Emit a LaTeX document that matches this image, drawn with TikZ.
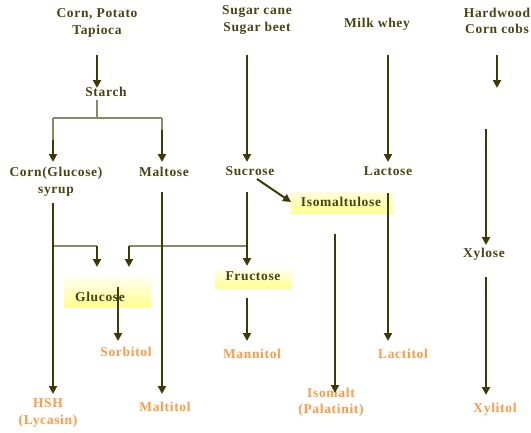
\documentclass[tikz,border=0pt]{standalone}
\usepackage{fontspec}
\setmainfont{Liberation Serif}[LetterSpace=5]
\usetikzlibrary{arrows.meta}
\definecolor{txt}{HTML}{474412}
\definecolor{arrc}{HTML}{3F3A05}
\definecolor{thinc}{HTML}{8A8A62}
\definecolor{org}{HTML}{FF9A45}
\definecolor{hly}{HTML}{FFFF90}
\newcommand{\lblfont}{\bfseries\fontsize{13.5}{16.5}\selectfont}
\tikzset{
 lbl/.style={font=\lblfont, text=txt, align=center, inner sep=0pt},
 prod/.style={font=\lblfont, text=org, align=center, inner sep=0pt},
 arr/.style={draw=arrc, line width=2pt, -{Triangle[width=8pt,length=8pt]}},
 thinln/.style={draw=thinc, line width=1.4pt},
 hl/.style={top color=white, bottom color=hly, draw=none}
}
\begin{document}
\begin{tikzpicture}[x=1pt,y=-1pt]
\useasboundingbox (0,0) rectangle (531,432);
% highlight boxes
\shade[hl] (64,272) rectangle (151,307);
\shade[hl] (215,266) rectangle (292,288);
\shade[hl,top color=hly!30] (291,192) rectangle (393,213);
% text nodes
\node[lbl] (corn) at (97,23) {Corn, Potato\\Tapioca};
\node[lbl] (starch) at (106,92) {Starch};
\node[lbl] (syrup) at (56,182) {Corn(Glucose)\\syrup};
\node[lbl] (maltose) at (164,172) {Maltose};
\node[lbl] (sugar) at (257,20) {Sugar cane\\Sugar beet};
\node[lbl] (whey) at (377,24) {Milk whey};
\node[lbl] (hardwood) at (497,21) {Hardwood\\Corn cobs};
\node[lbl] (sucrose) at (250,171) {Sucrose};
\node[lbl] (lactose) at (388,171) {Lactose};
\node[lbl] (isomaltulose) at (341,202) {Isomaltulose};
\node[lbl] (glucose) at (100,297) {Glucose};
\node[lbl] (fructose) at (253,276) {Fructose};
\node[lbl] (xylose) at (484,254) {Xylose};
\node[prod] (hsh) at (48,413) {HSH\\(Lycasin)};
\node[prod] (maltitol) at (165,407) {Maltitol};
\node[prod] (sorbitol) at (126,352) {Sorbitol};
\node[prod] (mannitol) at (252,354) {Mannitol};
\node[prod] (isomalt) at (331,402) {Isomalt\\(Palatinit)};
\node[prod] (lactitol) at (403,354) {Lactitol};
\node[prod] (xylitol) at (495,409) {Xylitol};
% coordinates
\coordinate (cornS) at (97,55);   \coordinate (starchN) at (97,88);
\coordinate (starchS) at (97,100); \coordinate (split) at (97,118);
\coordinate (splL) at (53,118);   \coordinate (splR) at (162,118);
\coordinate (splL2) at (53,140);  \coordinate (splR2) at (162,130);
\coordinate (syrupN) at (53,162); \coordinate (maltoseN) at (162,162);
\coordinate (sugarS) at (247,55); \coordinate (sucroseN) at (247,162);
\coordinate (wheyS) at (388,55);  \coordinate (lactoseN) at (388,162);
\coordinate (hardS) at (497,55);  \coordinate (hardE) at (497,88);
\coordinate (xylT) at (486,129);  \coordinate (xyloseN) at (486,245);
\coordinate (xyloseS) at (486,277); \coordinate (xylitolN) at (486,395);
\coordinate (lactoseS) at (388,193); \coordinate (lactitolN) at (388,341);
\coordinate (sucroseSE) at (257,179); \coordinate (isoW) at (291,202);
\coordinate (isoS) at (335,234); \coordinate (isomaltN) at (335,393);
\coordinate (sucroseS) at (247,192); \coordinate (fructoseN) at (247,266);
\coordinate (fructoseS) at (247,298); \coordinate (mannitolN) at (247,341);
\coordinate (syrupS) at (53,203); \coordinate (hshN) at (53,394);
\coordinate (maltoseS) at (162,192); \coordinate (maltitolN) at (162,394);
\coordinate (jL) at (53,246); \coordinate (jL2) at (97,246); \coordinate (gluN1) at (97,267);
\coordinate (jR) at (247,246); \coordinate (jR2) at (129,246); \coordinate (gluN2) at (129,267);
\coordinate (glucoseS) at (118,287); \coordinate (sorbitolN) at (118,341);
% thin joins
\draw[thinln] (starchS) -- (split);
\draw[thinln] (splL) -- (splR);
\draw[thinln] (splL) -- (splL2);
\draw[thinln] (splR) -- (splR2);
\draw[thinln] (jL) -- (jL2);
\draw[thinln] (jR) -- (jR2);
% arrows
\draw[arr] (cornS) -- (starchN);
\draw[arr] (splL2) -- (syrupN);
\draw[arr] (splR2) -- (maltoseN);
\draw[arr] (sugarS) -- (sucroseN);
\draw[arr] (wheyS) -- (lactoseN);
\draw[arr] (hardS) -- (hardE);
\draw[arr] (xylT) -- (xyloseN);
\draw[arr] (xyloseS) -- (xylitolN);
\draw[arr] (lactoseS) -- (lactitolN);
\draw[arr] (sucroseSE) -- (isoW);
\draw[arr] (isoS) -- (isomaltN);
\draw[arr] (sucroseS) -- (fructoseN);
\draw[arr] (fructoseS) -- (mannitolN);
\draw[arr] (syrupS) -- (hshN);
\draw[arr] (maltoseS) -- (maltitolN);
\draw[arr] (jL2) -- (gluN1);
\draw[arr] (jR2) -- (gluN2);
\draw[arr] (glucoseS) -- (sorbitolN);
\end{tikzpicture}
\end{document}
